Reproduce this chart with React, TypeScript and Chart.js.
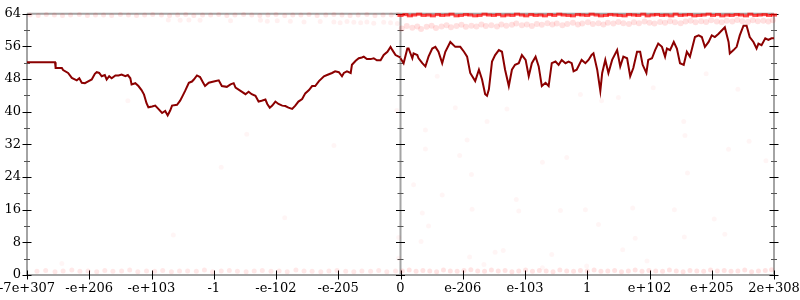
import React, { useEffect, useRef } from "react";
import { Chart, registerables } from "chart.js";

Chart.register(...registerables);

const xTickLabels = ["-7e+307", "-e+206", "-e+103", "-1", "-e-102", "-e-205", "0", "e-206", "e-103", "1", "e+102", "e+205", "2e+308"];
const panelEdges = [0, 6, 12];

const leftX = [0, 0.45, 0.46, 0.56, 0.58, 0.66, 0.72, 0.80, 0.84, 0.88, 0.93, 0.99, 1.04, 1.09, 1.12, 1.16, 1.20, 1.25, 1.28, 1.32, 1.36, 1.42, 1.47, 1.52, 1.58, 1.62, 1.66, 1.68, 1.74, 1.79, 1.84, 1.88, 1.92, 1.95, 2.01, 2.06, 2.11, 2.17, 2.22, 2.26, 2.30, 2.33, 2.41, 2.46, 2.50, 2.54, 2.60, 2.65, 2.68, 2.73, 2.78, 2.83, 2.86, 2.92, 3.00, 3.08, 3.13, 3.21, 3.27, 3.32, 3.35, 3.43, 3.51, 3.56, 3.61, 3.67, 3.72, 3.77, 3.83, 3.86, 3.90, 3.94, 3.99, 4.04, 4.10, 4.15, 4.20, 4.26, 4.31, 4.36, 4.42, 4.47, 4.53, 4.58, 4.63, 4.69, 4.77, 4.82, 4.90, 4.95, 5.01, 5.06, 5.09, 5.14, 5.20, 5.22, 5.28, 5.33, 5.38, 5.41, 5.46, 5.52, 5.57, 5.62, 5.68, 5.73, 5.79, 5.84, 5.87, 5.92, 5.97, 6.00];
const leftY = [52.1, 52.1, 50.7, 50.7, 50.2, 49.5, 48.3, 47.7, 48.2, 47.1, 47.0, 47.5, 47.9, 49.3, 49.7, 49.5, 48.7, 49.0, 47.9, 48.7, 48.2, 48.9, 48.9, 49.1, 48.7, 49.0, 48.2, 46.7, 47.0, 46.3, 45.3, 44.2, 42.1, 41.1, 41.3, 41.5, 40.7, 39.7, 40.2, 39.1, 40.3, 41.5, 41.7, 42.7, 43.9, 45.1, 47.1, 47.4, 47.9, 48.9, 48.5, 47.1, 46.3, 47.1, 47.4, 47.7, 46.3, 46.1, 46.7, 47.0, 45.9, 45.1, 44.3, 44.9, 44.3, 43.9, 42.5, 42.7, 43.0, 41.9, 41.0, 41.5, 42.5, 41.9, 41.5, 41.4, 41.0, 40.7, 41.5, 42.5, 43.1, 44.5, 45.3, 46.3, 46.3, 47.5, 48.7, 49.0, 49.5, 49.9, 49.7, 48.7, 49.5, 49.9, 49.5, 51.5, 52.5, 53.1, 53.3, 53.5, 52.9, 52.9, 53.1, 52.6, 52.6, 53.9, 54.7, 55.9, 55.1, 53.9, 53.5, 53.3];

const rightX = [6.00, 6.05, 6.11, 6.13, 6.19, 6.21, 6.27, 6.29, 6.35, 6.40, 6.45, 6.51, 6.56, 6.61, 6.67, 6.72, 6.80, 6.88, 6.96, 7.02, 7.07, 7.12, 7.20, 7.26, 7.31, 7.36, 7.39, 7.42, 7.47, 7.52, 7.58, 7.63, 7.68, 7.74, 7.79, 7.84, 7.90, 7.95, 8.01, 8.06, 8.11, 8.17, 8.22, 8.27, 8.33, 8.38, 8.43, 8.49, 8.54, 8.59, 8.65, 8.70, 8.75, 8.78, 8.83, 8.91, 8.97, 9.02, 9.07, 9.10, 9.16, 9.21, 9.24, 9.29, 9.34, 9.40, 9.48, 9.53, 9.58, 9.64, 9.69, 9.74, 9.80, 9.85, 9.89, 9.95, 9.98, 10.04, 10.09, 10.14, 10.20, 10.25, 10.28, 10.33, 10.39, 10.44, 10.49, 10.55, 10.60, 10.65, 10.73, 10.79, 10.84, 10.89, 10.95, 11.00, 11.05, 11.11, 11.16, 11.21, 11.27, 11.29, 11.35, 11.40, 11.45, 11.51, 11.56, 11.61, 11.67, 11.72, 11.75, 11.80, 11.86, 11.91, 11.96, 12.00];
const rightY = [53.1, 51.9, 55.5, 55.5, 53.1, 54.3, 53.9, 53.1, 51.9, 51.1, 53.5, 55.5, 55.9, 54.7, 51.9, 54.7, 57.1, 55.9, 55.9, 54.7, 53.5, 49.5, 47.5, 50.3, 47.9, 44.3, 43.9, 45.5, 52.3, 53.9, 55.1, 54.7, 50.3, 46.3, 50.3, 51.5, 51.9, 53.9, 52.7, 48.7, 51.9, 53.5, 51.1, 46.3, 47.1, 46.3, 51.9, 52.3, 51.5, 52.7, 51.9, 52.3, 51.9, 49.9, 50.3, 52.7, 51.9, 52.7, 53.9, 54.3, 50.3, 45.1, 49.5, 52.7, 49.5, 52.7, 55.1, 51.1, 53.5, 53.1, 48.7, 50.7, 54.7, 54.7, 51.5, 49.5, 52.7, 53.1, 55.1, 56.7, 55.9, 53.5, 55.5, 55.1, 57.1, 55.5, 51.9, 51.5, 54.7, 53.5, 58.3, 58.7, 58.3, 55.9, 57.1, 58.7, 58.3, 59.1, 59.9, 60.7, 57.1, 54.3, 55.1, 55.9, 58.7, 61.1, 61.1, 58.3, 57.1, 55.5, 56.7, 56.3, 58.0, 57.6, 58.0, 58.0];

const rightTopX = [6.00, 6.08, 6.15, 6.22, 6.30, 6.37, 6.45, 6.52, 6.60, 6.67, 6.75, 6.82, 6.90, 6.97, 7.05, 7.12, 7.20, 7.27, 7.35, 7.42, 7.50, 7.57, 7.65, 7.72, 7.80, 7.87, 7.95, 8.02, 8.10, 8.17, 8.25, 8.32, 8.40, 8.47, 8.55, 8.62, 8.70, 8.77, 8.85, 8.92, 9.00, 9.07, 9.15, 9.22, 9.30, 9.37, 9.45, 9.52, 9.60, 9.67, 9.75, 9.82, 9.90, 9.97, 10.05, 10.12, 10.20, 10.27, 10.35, 10.42, 10.50, 10.57, 10.65, 10.72, 10.80, 10.87, 10.95, 11.02, 11.10, 11.17, 11.25, 11.32, 11.40, 11.47, 11.55, 11.62, 11.70, 11.77, 11.85, 11.92, 12.00];
const rightTopY = [63.6, 63.8, 63.5, 63.7, 63.9, 63.6, 63.7, 63.5, 63.8, 63.6, 63.7, 63.9, 63.5, 63.6, 63.8, 63.7, 63.5, 63.6, 63.9, 63.7, 63.6, 63.8, 63.5, 63.7, 63.6, 63.9, 63.7, 63.5, 63.8, 63.6, 63.7, 63.5, 63.8, 63.6, 63.9, 63.7, 63.6, 63.5, 63.8, 63.7, 63.6, 63.9, 63.7, 63.5, 63.6, 63.8, 63.7, 63.6, 63.5, 63.8, 63.7, 63.6, 63.9, 63.5, 63.7, 63.8, 63.6, 63.7, 63.5, 63.9, 63.6, 63.7, 63.8, 63.5, 63.6, 63.7, 63.9, 63.6, 63.8, 63.5, 63.7, 63.6, 63.8, 63.7, 63.5, 63.9, 63.6, 63.7, 63.8, 63.6, 63.7];

const rightMidX = [6.02, 6.10, 6.19, 6.27, 6.33, 6.42, 6.50, 6.57, 6.66, 6.74, 6.81, 6.90, 6.98, 7.05, 7.14, 7.22, 7.30, 7.37, 7.46, 7.55, 7.62, 7.70, 7.79, 7.86, 7.95, 8.03, 8.11, 8.19, 8.27, 8.36, 8.44, 8.51, 8.60, 8.68, 8.77, 8.85, 8.92, 9.01, 9.09, 9.18, 9.26, 9.33, 9.42, 9.50, 9.58, 9.67, 9.75, 9.83, 9.92, 10.00, 10.08, 10.17, 10.25, 10.33, 10.41, 10.50, 10.58, 10.66, 10.74, 10.83, 10.91, 10.99, 11.08, 11.16, 11.24, 11.33, 11.41, 11.49, 11.58, 11.66, 11.74, 11.83, 11.91, 11.98];
const rightMidY = [60.4, 61.0, 60.6, 60.9, 60.3, 60.8, 61.1, 60.5, 60.9, 61.2, 60.7, 61.0, 61.3, 60.8, 61.1, 60.9, 61.4, 61.0, 61.2, 60.9, 61.4, 61.1, 61.3, 61.6, 61.2, 61.4, 61.0, 61.5, 61.3, 61.7, 61.4, 61.6, 61.2, 61.5, 61.8, 61.4, 61.6, 61.9, 61.5, 61.7, 61.4, 61.8, 61.6, 62.0, 61.7, 61.5, 61.9, 61.7, 62.1, 61.8, 61.6, 62.0, 61.8, 62.2, 61.9, 61.7, 62.1, 62.3, 61.9, 62.2, 62.0, 62.4, 62.1, 61.9, 62.3, 62.1, 62.5, 62.2, 62.0, 62.4, 62.2, 62.3, 62.1, 62.4];

const leftTopX = [0.05, 0.18, 0.31, 0.44, 0.57, 0.70, 0.84, 0.97, 1.10, 1.23, 1.36, 1.50, 1.63, 1.76, 1.89, 2.02, 2.16, 2.29, 2.42, 2.55, 2.68, 2.82, 2.95, 3.08, 3.21, 3.34, 3.48, 3.61, 3.74, 3.87, 4.00, 4.14, 4.27, 4.40, 4.53, 4.66, 4.80, 4.93, 5.06, 5.19, 5.32, 5.46, 5.59, 5.72, 5.85, 5.96];
const leftTopY = [63.7, 63.6, 63.8, 63.7, 63.6, 63.7, 63.8, 63.6, 63.7, 63.7, 63.6, 63.8, 63.7, 63.6, 63.7, 63.8, 63.7, 63.6, 63.7, 63.8, 63.6, 63.7, 63.7, 63.8, 63.6, 63.7, 63.8, 63.7, 63.6, 63.7, 63.8, 63.6, 63.7, 63.7, 63.8, 63.6, 63.7, 63.8, 63.7, 63.6, 63.7, 63.8, 63.6, 63.7, 63.7, 63.8];

const leftSecondX = [2.27, 2.46, 2.60, 2.78, 3.27, 3.75, 3.86, 4.02, 4.23, 4.45, 4.71, 4.93, 5.03, 5.14, 5.25, 5.36, 5.46, 5.57, 5.73, 5.84, 5.95];
const leftSecondY = [62.5, 62.4, 62.5, 62.4, 62.3, 62.4, 62.2, 62.3, 62.2, 62.0, 62.1, 62.0, 61.8, 62.1, 61.9, 61.8, 62.0, 61.7, 61.9, 61.8, 61.6];

const leftBottomX = [0.16, 0.30, 0.45, 0.58, 0.72, 0.85, 0.98, 1.12, 1.25, 1.38, 1.52, 1.65, 1.78, 1.92, 2.05, 2.18, 2.32, 2.45, 2.58, 2.72, 2.85, 2.98, 3.12, 3.25, 3.38, 3.52, 3.65, 3.78, 3.92, 4.05, 4.18, 4.32, 4.45, 4.58, 4.72, 4.85, 4.98, 5.12, 5.25, 5.38, 5.52, 5.65, 5.78, 5.92];
const leftBottomY = [0.9, 1.1, 0.8, 1.0, 1.2, 0.9, 1.0, 0.8, 1.1, 0.9, 1.0, 1.2, 0.8, 1.0, 0.9, 1.1, 0.8, 1.0, 1.0, 0.9, 1.2, 0.8, 1.0, 1.1, 0.9, 0.8, 1.0, 1.1, 0.9, 1.0, 0.8, 1.2, 1.0, 0.9, 0.8, 1.0, 1.1, 0.9, 0.8, 1.0, 0.9, 1.1, 0.8, 1.0];

const rightBottomX = [6.03, 6.14, 6.25, 6.36, 6.47, 6.58, 6.69, 6.80, 6.91, 7.02, 7.13, 7.24, 7.35, 7.46, 7.57, 7.68, 7.79, 7.90, 8.01, 8.12, 8.23, 8.34, 8.45, 8.56, 8.67, 8.78, 8.89, 9.00, 9.11, 9.22, 9.33, 9.44, 9.55, 9.66, 9.77, 9.88, 9.99, 10.10, 10.21, 10.32, 10.43, 10.54, 10.65, 10.76, 10.87, 10.98, 11.09, 11.20, 11.31, 11.42, 11.53, 11.64, 11.75, 11.86, 11.96];
const rightBottomY = [1.0, 1.2, 0.9, 1.1, 1.0, 0.8, 1.2, 1.0, 0.9, 1.1, 1.3, 1.0, 0.9, 1.2, 1.0, 1.1, 0.8, 1.0, 1.2, 0.9, 1.1, 1.0, 0.8, 1.2, 1.0, 0.9, 1.1, 1.0, 1.2, 0.9, 1.0, 1.1, 0.8, 1.0, 1.2, 0.9, 1.1, 1.0, 0.9, 1.2, 1.0, 0.8, 1.1, 1.0, 0.9, 1.2, 1.0, 1.1, 0.9, 1.0, 1.2, 0.8, 1.0, 1.1, 1.3];

const strayX = [1.62, 3.53, 4.93, 5.94, 3.12, 2.35, 4.14, 0.56, 5.97, 5.97, 6.59, 6.40, 6.40, 6.88, 7.07, 7.39, 7.71, 8.89, 9.23, 9.50, 10.06, 10.55, 10.57, 10.91, 11.42, 11.60, 11.27, 6.95, 8.67, 8.28, 7.14, 6.21, 6.67, 7.86, 7.90, 7.15, 6.35, 6.45, 6.33, 8.57, 8.97, 9.18, 9.73, 9.77, 9.57, 10.40, 10.56, 10.61, 11.04, 11.21, 11.87, 7.65, 7.52, 7.11, 7.34, 8.43, 9.96, 8.28, 8.99];
const strayY = [42.7, 34.5, 31.7, 40.3, 26.4, 9.8, 14.0, 2.8, 9.2, 4.1, 48.7, 35.5, 30.9, 41.0, 33.1, 37.6, 40.7, 44.2, 42.7, 43.5, 45.9, 37.6, 34.2, 49.3, 45.5, 32.8, 30.8, 29.3, 28.8, 27.6, 24.6, 22.1, 19.6, 18.5, 15.7, 16.1, 15.2, 12.0, 8.2, 15.8, 16.0, 12.4, 16.4, 9.0, 6.2, 16.0, 9.3, 25.0, 13.7, 10.0, 28.0, 6.0, 5.6, 4.4, 2.6, 5.0, 3.4, 1.8, 2.2];

const pts = (xs: number[], ys: number[]) => xs.map((x, i) => ({ x, y: ys[i] }));

const dots = (xs: number[], ys: number[], color: string, r: number) => ({
  data: pts(xs, ys),
  showLine: false,
  pointRadius: r,
  pointBackgroundColor: color,
  pointBorderWidth: 0,
  clip: false as const,
});

const dashes = (xs: number[], ys: number[], color: string, r: number, w: number) => ({
  data: pts(xs, ys),
  showLine: false,
  pointStyle: "line",
  pointRadius: r,
  pointBorderColor: color,
  pointBorderWidth: w,
  clip: false as const,
});

const framePlugin = {
  id: "framePlugin",
  beforeDatasetsDraw(chart: any) {
    const { ctx, chartArea: a, scales } = chart;
    const x = scales.x;
    const y = scales.y;
    const axisXs = panelEdges.map((v) => x.getPixelForValue(v));
    ctx.save();
    ctx.strokeStyle = "#a4a4a4";
    ctx.lineWidth = 2;
    ctx.beginPath();
    axisXs.forEach((px: number) => {
      ctx.moveTo(px, a.top);
      ctx.lineTo(px, a.bottom);
    });
    ctx.moveTo(a.left, a.top);
    ctx.lineTo(a.right, a.top);
    ctx.moveTo(a.left, a.bottom);
    ctx.lineTo(a.right, a.bottom);
    ctx.stroke();

    ctx.lineWidth = 1;
    const majors: number[] = y.ticks.map((t: any) => t.value);
    ctx.strokeStyle = "#000";
    ctx.beginPath();
    majors.forEach((v) => {
      const py = Math.round(y.getPixelForValue(v)) + 0.5;
      axisXs.forEach((px: number) => {
        ctx.moveTo(px - 4.5, py);
        ctx.lineTo(px + 4.5, py);
      });
    });
    x.ticks.forEach((t: any) => {
      const px = Math.round(x.getPixelForValue(t.value)) + 0.5;
      ctx.moveTo(px, a.bottom - 4.5);
      ctx.lineTo(px, a.bottom + 4.5);
    });
    ctx.stroke();
    ctx.strokeStyle = "#555";
    ctx.beginPath();
    for (let i = 0; i < majors.length - 1; i++) {
      const py = Math.round(y.getPixelForValue((majors[i] + majors[i + 1]) / 2)) + 0.5;
      axisXs.forEach((px: number) => {
        ctx.moveTo(px - 3, py);
        ctx.lineTo(px + 3, py);
      });
    }
    ctx.stroke();
    ctx.restore();
  },
};

export default function App() {
  const ref = useRef<HTMLCanvasElement>(null);
  useEffect(() => {
    document.body.style.margin = "0";
    if (!ref.current) return;
    const font = { family: "'DejaVu Serif', serif", size: 13 };
    const chart = new Chart(ref.current, {
      type: "line",
      data: {
        datasets: [
          { data: pts(leftX, leftY), borderColor: "#8b0000", borderWidth: 2, pointRadius: 0, tension: 0 },
          { data: pts(rightX, rightY), borderColor: "#8b0000", borderWidth: 2, pointRadius: 0, tension: 0 },
          dashes(rightTopX, rightTopY, "rgba(255,0,0,0.7)", 3, 3),
          dots(rightMidX, rightMidY, "rgba(255,0,0,0.12)", 3),
          dots(leftTopX, leftTopY, "rgba(255,0,0,0.1)", 2.5),
          dots(leftSecondX, leftSecondY, "rgba(255,0,0,0.06)", 2.5),
          dots(leftBottomX, leftBottomY, "rgba(255,0,0,0.09)", 2.5),
          dots(rightBottomX, rightBottomY, "rgba(255,0,0,0.11)", 2.5),
          dots(strayX, strayY, "rgba(255,0,0,0.04)", 2.5),
        ] as any,
      },
      options: {
        animation: false,
        responsive: false,
        events: [],
        layout: { padding: { top: 8, right: 26, left: 0, bottom: 0 } },
        plugins: { legend: { display: false }, tooltip: { enabled: false } },
        scales: {
          x: {
            type: "linear",
            min: 0,
            max: 12,
            grid: { display: false, drawTicks: false },
            border: { display: false },
            afterBuildTicks: (s: any) => {
              s.ticks = xTickLabels.map((_, i) => ({ value: i }));
            },
            afterFit: (s: any) => {
              s.height = 25;
              s.paddingLeft = 0;
              s.paddingRight = 0;
            },
            ticks: {
              autoSkip: false,
              maxRotation: 0,
              minRotation: 0,
              padding: 6,
              color: "#000",
              font,
              callback: (_v: any, i: number) => xTickLabels[i],
            },
          },
          y: {
            min: 0,
            max: 64,
            grid: { display: false, drawTicks: false },
            border: { display: false },
            afterFit: (s: any) => {
              s.width = 27;
            },
            ticks: { stepSize: 8, padding: 6, color: "#000", font },
          },
        },
      },
      plugins: [framePlugin],
    });
    return () => chart.destroy();
  }, []);
  return (
    <div style={{ width: 800, height: 300 }}>
      <canvas ref={ref} width={800} height={300} style={{ display: "block" }} />
    </div>
  );
}
